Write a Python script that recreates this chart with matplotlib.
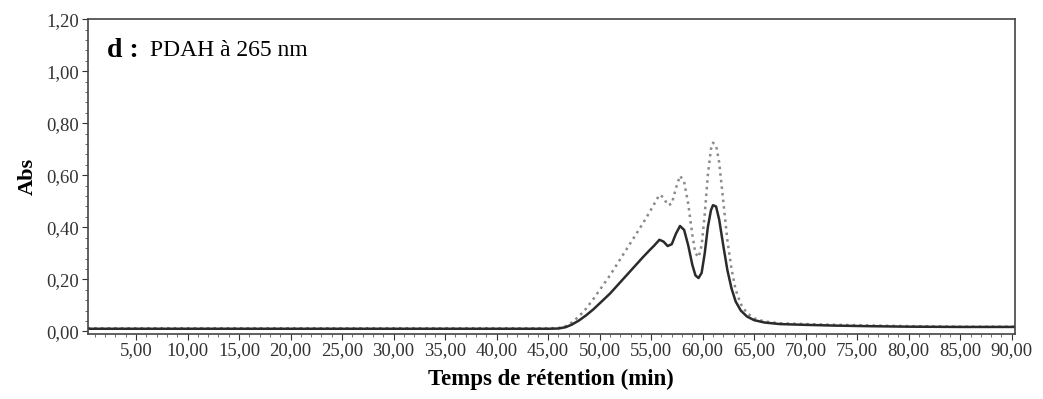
import matplotlib.pyplot as plt
from matplotlib.ticker import MultipleLocator, FuncFormatter

# retention time (min) and absorbance
t_min = [0.3, 45.0, 46.0, 46.7, 47.3, 48.0, 48.7, 49.4, 50.2, 51.0, 51.8, 52.6, 53.4,
         54.2, 54.8, 55.3, 55.8, 56.2, 56.6, 57.0, 57.4, 57.8, 58.2, 58.6, 59.0,
         59.3, 59.6, 59.9, 60.2, 60.5, 60.8, 61.0, 61.3, 61.6, 62.0, 62.4, 62.8,
         63.2, 63.7, 64.3, 65.0, 66.0, 67.5, 70.0, 73.0, 76.0, 80.0, 85.0, 90.3]
abs_solid = [0.010, 0.010, 0.011, 0.016, 0.026, 0.042, 0.062, 0.085, 0.115, 0.145,
             0.180, 0.215, 0.250, 0.285, 0.310, 0.330, 0.352, 0.345, 0.328, 0.335,
             0.375, 0.405, 0.390, 0.330, 0.255, 0.215, 0.205, 0.225, 0.300, 0.400,
             0.465, 0.485, 0.480, 0.430, 0.330, 0.235, 0.165, 0.115, 0.080, 0.057,
             0.043, 0.034, 0.028, 0.025, 0.022, 0.020, 0.018, 0.017, 0.017]
abs_dot = [0.012, 0.012, 0.013, 0.020, 0.034, 0.058, 0.088, 0.125, 0.170, 0.215,
           0.265, 0.315, 0.365, 0.415, 0.455, 0.490, 0.525, 0.515, 0.485, 0.490,
           0.550, 0.598, 0.575, 0.490, 0.370, 0.300, 0.285, 0.330, 0.450, 0.600,
           0.700, 0.725, 0.715, 0.650, 0.500, 0.350, 0.240, 0.160, 0.105, 0.070,
           0.050, 0.038, 0.031, 0.028, 0.025, 0.023, 0.020, 0.018, 0.018]

plt.rcParams['font.family'] = ['Liberation Serif', 'DejaVu Serif']

fig = plt.figure(figsize=(10.43, 3.99), dpi=100)
ax = fig.add_axes([0.084, 0.163, 0.889, 0.789])

ax.plot(t_min, abs_dot, color='#8a8a8a', linestyle=':', linewidth=1.8)
ax.plot(t_min, abs_solid, color='#2b2b2b', linewidth=1.8)

ax.set_xlim(0.3, 90.3)
ax.set_ylim(-0.01, 1.2)
ax.xaxis.set_major_locator(MultipleLocator(5))
ax.xaxis.set_minor_locator(MultipleLocator(1))
ax.yaxis.set_major_locator(MultipleLocator(0.2))
ax.yaxis.set_minor_locator(MultipleLocator(0.04))
comma = FuncFormatter(lambda v, p: f'{v:.2f}'.replace('.', ','))
ax.xaxis.set_major_formatter(comma)
ax.yaxis.set_major_formatter(comma)
ax.tick_params(axis='both', which='major', labelsize=13.5, length=4, width=0.8, pad=2, colors='#333333')
ax.tick_params(axis='both', which='minor', length=2, width=0.6, colors='#555555')
for s in ax.spines.values():
    s.set_color('#444444')
    s.set_linewidth(1.2)

ax.set_xlabel('Temps de rétention (min)', fontsize=16.5, fontweight='bold', labelpad=7)
ax.set_ylabel('Abs', fontsize=16, fontweight='bold', labelpad=6)

ax.text(0.021, 0.90, 'd :', transform=ax.transAxes, fontsize=20, fontweight='bold',
        va='center', ha='left')
ax.text(0.067, 0.90, 'PDAH à 265 nm', transform=ax.transAxes, fontsize=17,
        va='center', ha='left')

fig.savefig('out.png', dpi=100)
